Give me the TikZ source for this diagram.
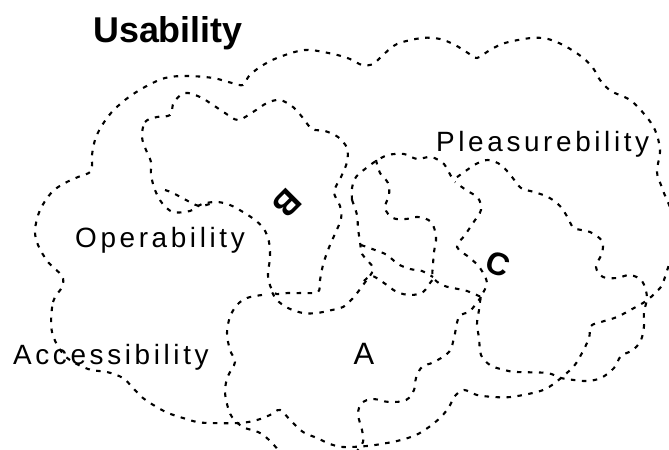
\documentclass[tikz,border=0pt]{standalone}
\usepackage{fontspec}
\setmainfont{Liberation Sans}
\newfontfamily\spacedfont[LetterSpace=13]{Liberation Sans}
\begin{document}
\begin{tikzpicture}[x=1bp,y={(0bp,-1bp)},
	cloud line/.style = {line width=2.1bp, dash pattern=on 4.5bp off 6.5bp, line cap=butt},
	set label/.style = {anchor=base west, inner sep=0pt, font=\spacedfont\fontsize{28}{30}\selectfont},
	mark label/.style = {inner sep=0pt, font=\fontsize{31}{33}\selectfont}]
	\useasboundingbox (0,0) rectangle (669,450);
	\clip (0,0) rectangle (669,450);

	% outer cloud
	\draw[cloud line] plot[smooth cycle, tension=0.55] coordinates {
		(52,332) (53,302) (62,287) (62,276) (48,262) (38,245) (35,230) (40,210)
		(52,192) (65,183) (78,177) (91,171) (92,155) (95,140) (101,127) (111,113)
		(125,100) (143,88) (165,78) (187,76) (213,78) (232,83) (243,85) (249,76)
		(260,67) (277,58) (305,50) (333,54) (350,59) (362,65) (373,64) (383,55)
		(397,44) (422,38) (440,39) (455,45) (468,53) (477,58) (490,50) (505,43)
		(531,38) (548,39) (565,46) (582,57) (593,68) (600,80) (611,91) (630,100)
		(645,115) (655,130) (660,150) (657,172) (662,188) (676,230) (664,280)
		(656,292) (646,301) (634,308) (617,317) (601,322) (591,326) (589,338)
		(582,353) (574,366) (561,378) (549,387) (537,392) (511,397) (494,397)
		(477,395) (464,390) (455,396) (449,407) (441,417) (429,427) (416,435)
		(401,440) (387,443) (367,446) (343,447) (330,444) (317,438) (303,432)
		(291,421) (280,410) (270,415) (257,420) (240,423) (210,423) (197,422)
		(183,418) (168,413) (155,406) (143,398) (133,388) (123,378) (107,372)
		(88,369) (65,356)};

	% upper left cloud
	\draw[cloud line] plot[smooth cycle, tension=0.55] coordinates {
		(142,137) (145,122) (157,117) (170,115) (174,102) (185,93) (200,97)
		(213,105) (225,113) (238,120) (253,112) (267,103) (280,100) (293,107)
		(303,118) (312,129) (325,131) (338,137) (347,148) (347,162) (341,177)
		(334,192) (340,206) (341,219) (334,236) (328,250) (323,265) (320,280)
		(318,292) (302,293) (288,293) (274,293) (268,276) (270,258) (269,242)
		(264,229) (255,220) (243,212) (230,205) (217,202) (202,204) (190,211)
		(173,212) (162,203) (155,190) (151,175) (151,162) (146,150)};
	\draw[cloud line] plot[smooth, tension=0.6] coordinates {
		(165,190) (173,193) (186,200) (200,206) (215,202)};

	% cloud round A
	\draw[cloud line] plot[smooth, tension=0.6] coordinates {
		(262,295) (247,298) (237,305) (230,317) (227,333) (230,350) (235,362)
		(228,376) (225,390) (227,404) (232,417) (243,427) (258,432) (268,439)
		(282,454)};
	\draw[cloud line] plot[smooth, tension=0.6] coordinates {
		(352,200) (357,215) (358,228) (360,242) (362,254) (368,261) (373,270)
		(363,285) (353,298) (343,307) (332,310) (317,313) (303,313) (288,308)
		(276,299) (270,287)};
	\draw[cloud line] plot[smooth, tension=0.6] coordinates {
		(361,245) (375,250) (387,255) (398,264) (410,269) (422,271) (433,277)};
	\draw[cloud line] plot[smooth, tension=0.6] coordinates {
		(364,281) (372,276) (384,283) (397,292) (411,295) (423,292) (430,283)
		(434,278)};

	% middle cloud
	\draw[cloud line] plot[smooth, tension=0.6] coordinates {
		(376,160) (380,173) (388,183) (389,195) (385,208) (393,218) (406,219)
		(418,217) (431,222) (436,237) (434,252) (433,265) (433,277) (442,285)
		(453,288) (467,291) (481,297)};
	\draw[cloud line] plot[smooth, tension=0.6] coordinates {
		(481,297) (470,311) (459,317) (454,338) (449,352) (434,362) (422,367)
		(416,378) (414,390) (406,400) (389,402) (373,399) (362,403) (358,414)
		(362,430) (363,442) (356,452)};

	% right cloud
	\draw[cloud line] plot[smooth, tension=0.55] coordinates {
		(352,200) (352,188) (356,177) (365,169) (376,161) (388,155) (404,154)
		(417,159) (431,157) (444,164) (453,178) (464,172) (476,164) (488,160)
		(501,165) (512,177) (521,188) (534,192) (548,197) (560,206) (568,218)
		(574,228) (590,232) (602,241) (602,253) (596,267) (603,277) (617,278)
		(630,275) (642,281) (647,297) (644,312) (644,326) (641,340) (633,350)
		(621,356) (614,368) (601,378) (587,381) (574,380) (561,378) (547,373)
		(517,372) (504,370) (490,365) (481,355) (479,338) (477,324) (479,310)
		(481,297) (487,283) (480,268) (470,258) (457,247) (465,235) (473,223)
		(481,210) (478,198) (466,190) (455,182)};

	% labels
	\node[anchor=base west, inner sep=0pt, font=\bfseries\fontsize{36}{40}\selectfont] (usability) at (93,43) {Usability};
	\node[set label] (operability) at (75,248) {Operability};
	\node[set label] (pleasurebility) at (436,152) {Pleasurebility};
	\node[set label] (accessibility) at (13,364) {Accessibility};
	\node[mark label] (a) at (364,354) {A};
	\node[mark label, font=\bfseries\fontsize{34}{36}\selectfont, rotate=-135] (b) at (287,203) {B};
	\node[mark label, font=\bfseries\fontsize{32}{34}\selectfont, rotate=-20] (c) at (498,264) {C};
\end{tikzpicture}
\end{document}
